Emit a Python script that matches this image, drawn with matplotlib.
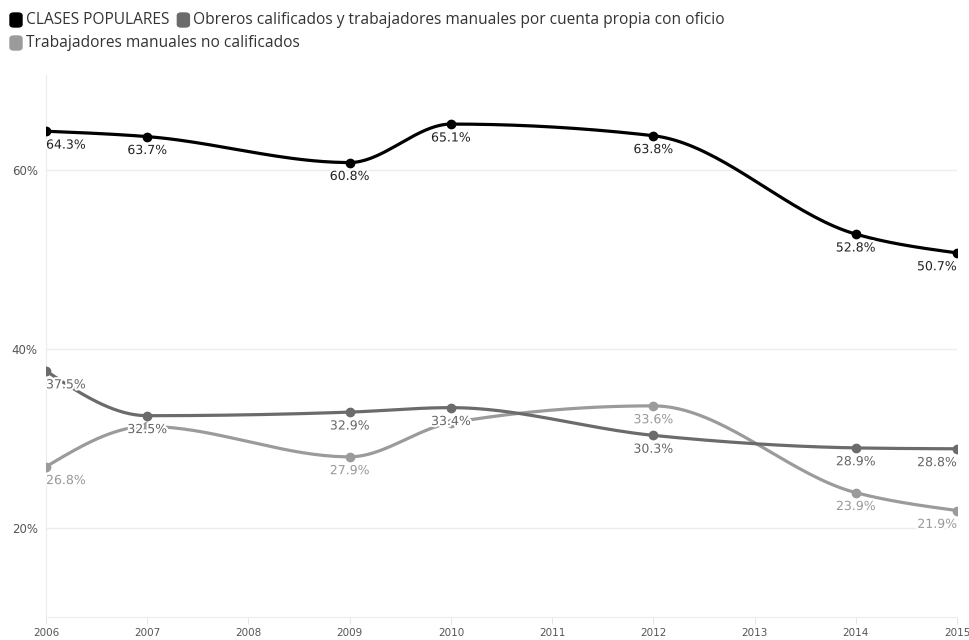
import numpy as np
import matplotlib.pyplot as plt
import matplotlib.patheffects as pe
from matplotlib.patches import FancyBboxPatch

# data
years = [2006, 2007, 2009, 2010, 2012, 2014, 2015]
clases_populares = [64.3, 63.7, 60.8, 65.1, 63.8, 52.8, 50.7]
obreros_calificados = [37.5, 32.5, 32.9, 33.4, 30.3, 28.9, 28.8]
no_calificados = [26.8, 31.3, 27.9, 31.7, 33.6, 23.9, 21.9]
# labels hidden in the original (overlap) are marked False
no_calif_shown = [True, False, True, False, True, True, True]

series_names = ["CLASES POPULARES",
                "Obreros calificados y trabajadores manuales por cuenta propia con oficio",
                "Trabajadores manuales no calificados"]
series_colors = ["#000000", "#6b6b6b", "#9b9b9b"]
label_colors = ["#222222", "#666666", "#999999"]


def monotone(x, y, n=40):
    # monotone cubic curve like d3.curveMonotoneX
    x = np.asarray(x, float)
    y = np.asarray(y, float)
    h = np.diff(x)
    s = np.diff(y) / h
    t = np.zeros(len(x))
    for i in range(1, len(x) - 1):
        p = (s[i - 1] * h[i] + s[i] * h[i - 1]) / (h[i - 1] + h[i])
        t[i] = (np.sign(s[i - 1]) + np.sign(s[i])) * min(abs(s[i - 1]), abs(s[i]), 0.5 * abs(p))
    t[0] = (3 * s[0] - t[1]) / 2
    t[-1] = (3 * s[-1] - t[-2]) / 2
    xs, ys = [], []
    for i in range(len(x) - 1):
        u = np.linspace(0, 1, n)
        h00 = 2 * u**3 - 3 * u**2 + 1
        h10 = u**3 - 2 * u**2 + u
        h01 = -2 * u**3 + 3 * u**2
        h11 = u**3 - u**2
        xs.append(x[i] + u * h[i])
        ys.append(h00 * y[i] + h10 * h[i] * t[i] + h01 * y[i + 1] + h11 * h[i] * t[i + 1])
    return np.concatenate(xs), np.concatenate(ys)


fig = plt.figure(figsize=(9.69, 6.4), dpi=100)
ax = fig.add_axes([0.0475, 0.036, 0.9401, 0.847])

all_series = [clases_populares, obreros_calificados, no_calificados]
for vals, col in zip(all_series[::-1], series_colors[::-1]):
    cx, cy = monotone(years, vals)
    ax.plot(cx, cy, color=col, lw=2.3, solid_capstyle='round', zorder=3)
    ax.plot(years, vals, 'o', color=col, ms=6, zorder=4)

halo = [pe.withStroke(linewidth=3, foreground='white')]
shown = [[True] * len(years), [True] * len(years), no_calif_shown]
for vals, lcol, show in zip(all_series[::-1], label_colors[::-1], shown[::-1]):
    for i, (yr, v) in enumerate(zip(years, vals)):
        if not show[i]:
            continue
        ha = 'center'
        if i == 0:
            ha = 'left'
        elif i == len(years) - 1:
            ha = 'right'
        ax.annotate(f"{v:.1f}%", (yr, v), xytext=(0, -10), textcoords='offset points',
                    ha=ha, va='center', fontsize=9, color=lcol, zorder=6,
                    path_effects=halo)

ax.set_xlim(2006, 2015)
ax.set_ylim(10, 70.6)
ax.set_xticks(range(2006, 2016))
ax.set_yticks([20, 40, 60])
ax.set_yticklabels(["20%", "40%", "60%"])
ax.tick_params(axis='y', length=0, labelsize=8.5, labelcolor='#555555', pad=6)
ax.tick_params(axis='x', length=5, color='#e6e6e6', labelsize=7.5, labelcolor='#555555', pad=3)
ax.grid(axis='y', color='#ececec', lw=1)
ax.set_axisbelow(True)
for side in ['top', 'right']:
    ax.spines[side].set_visible(False)
ax.spines['left'].set_color('#ececec')
ax.spines['bottom'].set_color('#ececec')

# legend drawn by hand so it wraps like the original
fig.canvas.draw()
renderer = fig.canvas.get_renderer()
W, H = fig.bbox.width, fig.bbox.height
rows = [[0, 1], [2]]
row_y = [20, 43]
for r, items in enumerate(rows):
    xpos = 10
    for k in items:
        fig.patches.append(FancyBboxPatch(((xpos) / W, 1 - (row_y[r] + 7) / H), 12 / W, 14 / H,
                                          boxstyle="round,pad=0,rounding_size=0.004",
                                          transform=fig.transFigure, color=series_colors[k]))
        txt = fig.text((xpos + 16) / W, 1 - row_y[r] / H, series_names[k], fontsize=11.2,
                       family='Open Sans', color='#333333', va='center', ha='left')
        bb = txt.get_window_extent(renderer)
        xpos = bb.x1 + 8

fig.savefig("out.png", dpi=100)
